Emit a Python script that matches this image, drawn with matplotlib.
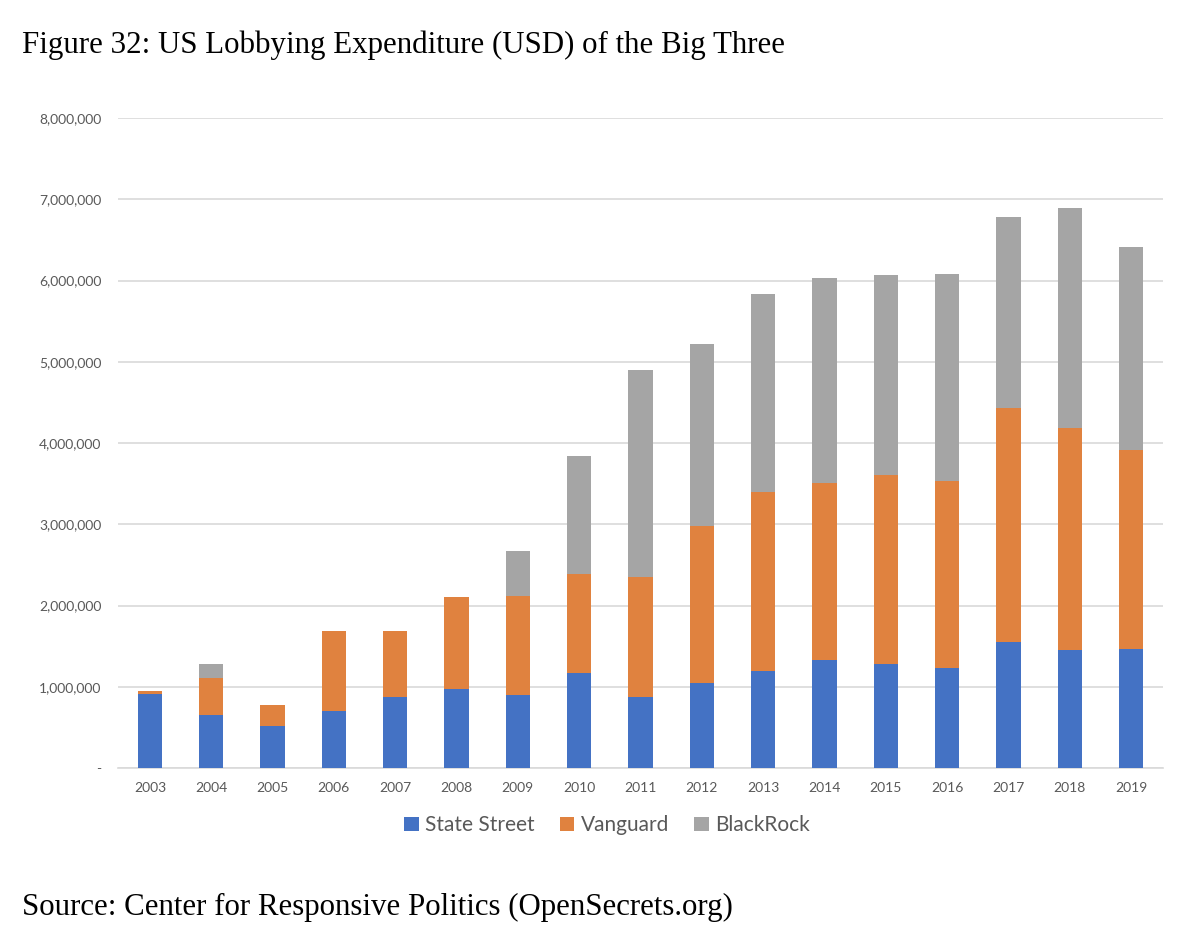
import numpy as np
import matplotlib.pyplot as plt
from matplotlib.ticker import FuncFormatter

years = [str(y) for y in range(2003, 2020)]

# valores (USD)
state_street = [910000, 650000, 520000, 700000, 870000, 970000, 900000, 1170000, 870000,
                1050000, 1190000, 1330000, 1280000, 1230000, 1550000, 1450000, 1470000]
vanguard_top = [950000, 1110000, 780000, 1690000, 1690000, 2110000, 2120000, 2390000, 2350000,
                2980000, 3400000, 3510000, 3610000, 3530000, 4430000, 4190000, 3910000]
blackrock_top = [950000, 1280000, 780000, 1690000, 1690000, 2110000, 2670000, 3840000, 4900000,
                 5220000, 5830000, 6030000, 6070000, 6080000, 6780000, 6890000, 6410000]

ss = np.array(state_street)
vg = np.array(vanguard_top) - ss
br = np.array(blackrock_top) - np.array(vanguard_top)

fig = plt.figure(figsize=(12, 9.43), dpi=100)
ax = fig.add_axes([118 / 1200, 1 - 768 / 943, (1163 - 118) / 1200, (768 - 118) / 943])

x = np.arange(len(years))
w = 0.4
ax.bar(x, ss, w, color='#4472C4', label='State Street', zorder=3)
ax.bar(x, vg, w, bottom=ss, color='#E0823F', label='Vanguard', zorder=3)
ax.bar(x, br, w, bottom=ss + vg, color='#A5A5A5', label='BlackRock', zorder=3)

ax.set_xlim(-0.52, len(years) - 0.48)
ax.set_ylim(0, 8000000)
ax.set_yticks(np.arange(0, 8000001, 1000000))
ax.yaxis.set_major_formatter(FuncFormatter(lambda v, p: '-' if v == 0 else f'{int(v):,}'))
ax.set_xticks(x)
ax.set_xticklabels(years)

ax.grid(axis='y', color='#D9D9D9', linewidth=1.2, zorder=0)
for s in ['top', 'right', 'left']:
    ax.spines[s].set_visible(False)
ax.spines['bottom'].set_color('#D9D9D9')
ax.spines['bottom'].set_linewidth(1.2)
ax.tick_params(axis='both', length=0, labelsize=10, labelcolor='#595959', pad=12)
ax.tick_params(axis='x', pad=10)
for lbl in ax.get_xticklabels() + ax.get_yticklabels():
    lbl.set_family(['Lato', 'DejaVu Sans'])

leg = ax.legend(loc='center', bbox_to_anchor=(0.468, -0.088), ncol=3, frameon=False,
                handlelength=0.7, handleheight=0.7, handletextpad=0.3, columnspacing=1.2,
                prop={'family': ['Lato', 'DejaVu Sans'], 'size': 15})
for t in leg.get_texts():
    t.set_color('#595959')

fig.text(22 / 1200, 1 - 45 / 943, 'Figure 32: US Lobbying Expenditure (USD) of the Big Three',
         family='Liberation Serif', fontsize=22.2, va='center', ha='left')
fig.text(22 / 1200, 1 - 907 / 943, 'Source: Center for Responsive Politics (OpenSecrets.org)',
         family='Liberation Serif', fontsize=22.2, va='center', ha='left')

fig.savefig('out.png', dpi=100)
